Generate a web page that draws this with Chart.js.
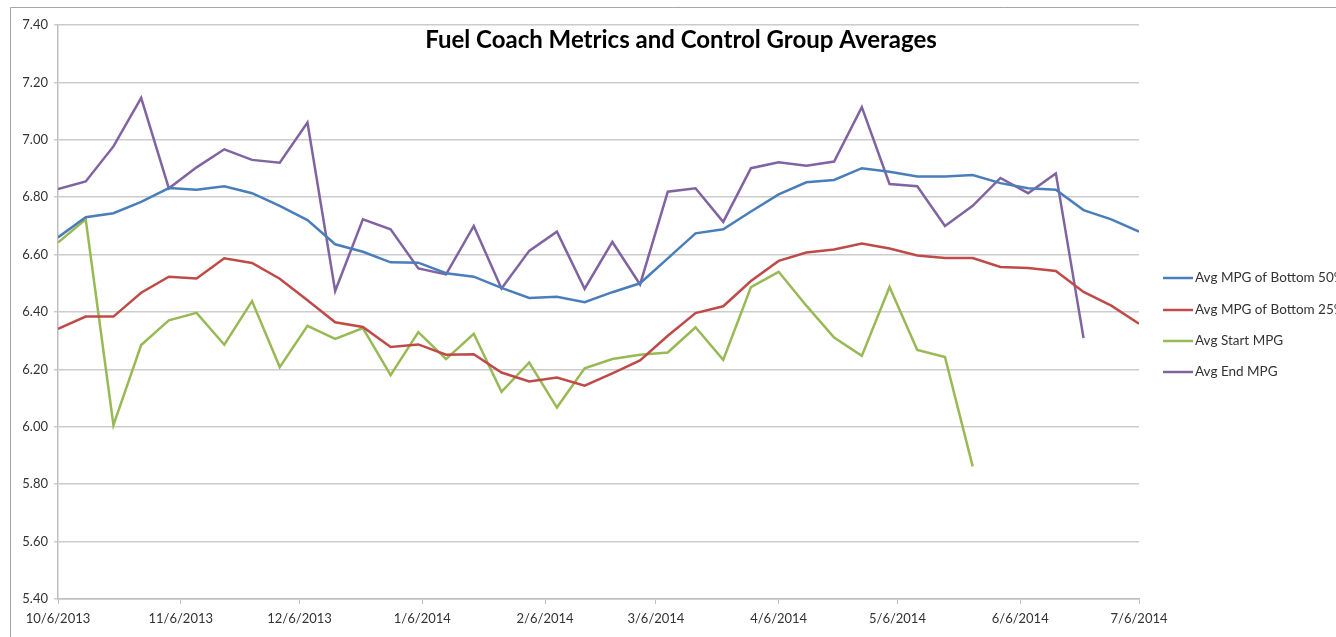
<!DOCTYPE html>
<html>
<head>
<meta charset="utf-8">
<script src="https://cdn.jsdelivr.net/npm/chart.js@4"></script>
<style>
html,body{margin:0;padding:0;background:#fff;}
canvas{display:block;}
</style>
</head>
<body>
<canvas id="c" width="1336" height="637"></canvas>
<script>
const chartTitle = "Fuel Coach Metrics and Control Group Averages";
const weekDates = [
  "10/6/2013","10/13/2013","10/20/2013","10/27/2013",
  "11/3/2013","11/10/2013","11/17/2013","11/24/2013",
  "12/1/2013","12/8/2013","12/15/2013","12/22/2013","12/29/2013",
  "1/5/2014","1/12/2014","1/19/2014","1/26/2014",
  "2/2/2014","2/9/2014","2/16/2014","2/23/2014",
  "3/2/2014","3/9/2014","3/16/2014","3/23/2014","3/30/2014",
  "4/6/2014","4/13/2014","4/20/2014","4/27/2014",
  "5/4/2014","5/11/2014","5/18/2014","5/25/2014",
  "6/1/2014","6/8/2014","6/15/2014","6/22/2014","6/29/2014",
  "7/6/2014"
];
const xTickLabels = ["10/6/2013","11/6/2013","12/6/2013","1/6/2014","2/6/2014","3/6/2014","4/6/2014","5/6/2014","6/6/2014","7/6/2014"];
const yTickValues = [5.4,5.6,5.8,6.0,6.2,6.4,6.6,6.8,7.0,7.2,7.4];

const seriesNames = ["Avg MPG of Bottom 50%","Avg MPG of Bottom 25%","Avg Start MPG","Avg End MPG"];
const seriesColors = ["#4A7EBB","#BE4B48","#98B954","#8064A2"];

const bottom50 = [6.66,6.73,6.744,6.784,6.832,6.826,6.838,6.814,6.77,6.72,6.636,6.61,6.573,6.572,6.535,6.523,6.484,6.449,6.453,6.434,6.469,6.50,6.587,6.674,6.688,6.75,6.81,6.852,6.86,6.901,6.889,6.872,6.872,6.877,6.849,6.831,6.826,6.755,6.723,6.68];
const bottom25 = [6.341,6.384,6.384,6.467,6.523,6.517,6.587,6.571,6.516,6.441,6.364,6.348,6.278,6.287,6.251,6.253,6.189,6.158,6.172,6.143,6.186,6.231,6.317,6.396,6.42,6.508,6.578,6.607,6.618,6.639,6.621,6.597,6.588,6.588,6.557,6.553,6.543,6.47,6.422,6.359];
const startMPG = [6.642,6.723,6.006,6.285,6.371,6.397,6.286,6.438,6.208,6.352,6.306,6.344,6.18,6.33,6.236,6.324,6.122,6.224,6.067,6.204,6.236,6.251,6.259,6.347,6.233,6.487,6.54,6.422,6.311,6.247,6.487,6.268,6.243,5.862];
const endMPG = [6.828,6.855,6.977,7.146,6.831,6.904,6.967,6.93,6.92,7.06,6.473,6.723,6.688,6.552,6.531,6.70,6.482,6.613,6.68,6.481,6.644,6.496,6.819,6.831,6.714,6.901,6.922,6.91,6.924,7.114,6.846,6.838,6.70,6.77,6.867,6.814,6.883,6.309];

function dayNum(s){ const p=s.split('/').map(Number); return Date.UTC(p[2],p[0]-1,p[1])/86400000; }
const day0 = dayNum(weekDates[0]);
function toPoints(vals){ return vals.map((v,i)=>({x: dayNum(weekDates[i]) - day0, y: v})); }
const xTickValues = xTickLabels.map(s => dayNum(s) - day0);

const allSeries = [bottom50, bottom25, startMPG, endMPG];

const decor = {
  id:'decor',
  beforeDraw(chart){
    const ctx = chart.ctx;
    ctx.save();
    ctx.fillStyle = '#fff';
    ctx.fillRect(0,0,chart.width,chart.height);
    ctx.strokeStyle = '#a6a6a6';
    ctx.lineWidth = 1;
    ctx.beginPath();
    ctx.moveTo(10.5, chart.height);
    ctx.lineTo(10.5, 7.5);
    ctx.lineTo(chart.width, 7.5);
    ctx.stroke();
    ctx.restore();
  },
  afterDraw(chart){
    const ctx = chart.ctx;
    ctx.save();
    ctx.fillStyle = '#000';
    ctx.font = 'bold 24px Lato';
    ctx.textAlign = 'center';
    ctx.textBaseline = 'middle';
    ctx.fillText(chartTitle, 681, 40);
    ctx.font = '13.5px Lato';
    ctx.textAlign = 'left';
    const ys = [278, 310, 341, 372];
    chart.data.datasets.forEach((ds, i) => {
      ctx.strokeStyle = ds.borderColor;
      ctx.lineWidth = 2.5;
      ctx.beginPath();
      ctx.moveTo(1163, ys[i]);
      ctx.lineTo(1193, ys[i]);
      ctx.stroke();
      ctx.fillStyle = '#333';
      ctx.fillText(ds.label, 1195, ys[i]);
    });
    ctx.restore();
  }
};

new Chart(document.getElementById('c'), {
  type: 'line',
  data: {
    datasets: allSeries.map((vals, i) => ({
      label: seriesNames[i],
      data: toPoints(vals),
      borderColor: seriesColors[i],
      backgroundColor: seriesColors[i],
      borderWidth: 2.5,
      pointRadius: 0,
      tension: 0,
      fill: false
    }))
  },
  options: {
    responsive: false,
    devicePixelRatio: 1,
    animation: false,
    layout: { padding: { left: 0, right: 197, top: 25, bottom: 0 } },
    plugins: { legend: { display: false }, title: { display: false }, tooltip: { enabled: false } },
    scales: {
      x: {
        type: 'linear',
        min: xTickValues[0],
        max: xTickValues[xTickValues.length - 1],
        afterBuildTicks(s){ s.ticks = xTickValues.map(v => ({ value: v })); },
        afterFit(s){ s.height = 38; },
        grid: { display: true, drawOnChartArea: false, drawTicks: true, tickLength: 5, color: '#bfbfbf', lineWidth: 1 },
        border: { display: true, color: '#bfbfbf', width: 1.5 },
        ticks: {
          autoSkip: false, maxRotation: 0, minRotation: 0, padding: 7,
          color: '#333', font: { family: 'Lato', size: 13 },
          callback: (v, i) => xTickLabels[i]
        }
      },
      y: {
        min: yTickValues[0],
        max: yTickValues[yTickValues.length - 1],
        afterBuildTicks(s){ s.ticks = yTickValues.map(v => ({ value: v })); },
        afterFit(s){ s.width = 58; },
        grid: { color: '#cccccc', lineWidth: 1.5, tickLength: 4, drawTicks: true },
        border: { display: true, color: '#bfbfbf', width: 1.5 },
        ticks: {
          padding: 6, color: '#333', font: { family: 'Lato', size: 13 },
          callback: v => Number(v).toFixed(2)
        }
      }
    }
  },
  plugins: [decor]
});
</script>
</body>
</html>
